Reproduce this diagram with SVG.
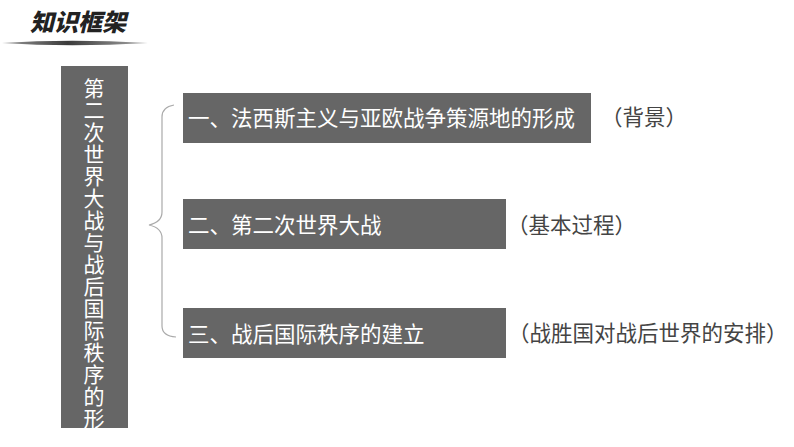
<svg xmlns="http://www.w3.org/2000/svg" width="794" height="447" viewBox="0 0 794 447">
<style>
.box{fill:#666666;}
.bt{font-family:"Noto Sans CJK SC","Noto Sans",sans-serif;font-size:21.5px;fill:#ffffff;}
.lt{font-family:"Noto Sans CJK SC","Noto Sans",sans-serif;font-size:21.5px;fill:#444444;}
.vt{font-family:"Noto Sans CJK SC","Noto Sans",sans-serif;font-size:21px;fill:#ffffff;text-anchor:middle;}
.title{font-family:"Noto Sans CJK SC",sans-serif;font-size:24px;font-weight:900;fill:#222222;font-style:italic;}
</style>
<defs>
<linearGradient id="bar" x1="0" y1="0" x2="1" y2="0">
<stop offset="0" stop-color="#9a9a9a"/>
<stop offset="0.45" stop-color="#3a3a3a"/>
<stop offset="1" stop-color="#aaaaaa"/>
</linearGradient>
<clipPath id="vclip"><rect x="61" y="66" width="67" height="362"/></clipPath>
</defs>
<rect width="794" height="447" fill="#ffffff"/>
<g id="header">
<text class="title" x="30" y="31">知识框架</text>
<path d="M2,43 Q70,38.5 148,43 Q70,47.5 2,43 Z" fill="url(#bar)"/>
</g>
<g id="main">
<rect class="box" x="61" y="66" width="67" height="362"/>
<g clip-path="url(#vclip)">
<text class="vt" x="94" y="95.5">第</text>
<text class="vt" x="94" y="117.5">二</text>
<text class="vt" x="94" y="139.5">次</text>
<text class="vt" x="94" y="161.5">世</text>
<text class="vt" x="94" y="183.5">界</text>
<text class="vt" x="94" y="205.5">大</text>
<text class="vt" x="94" y="227.5">战</text>
<text class="vt" x="94" y="249.5">与</text>
<text class="vt" x="94" y="271.5">战</text>
<text class="vt" x="94" y="293.5">后</text>
<text class="vt" x="94" y="315.5">国</text>
<text class="vt" x="94" y="337.5">际</text>
<text class="vt" x="94" y="359.5">秩</text>
<text class="vt" x="94" y="381.5">序</text>
<text class="vt" x="94" y="403.5">的</text>
<text class="vt" x="94" y="425.5">形</text>
<text class="vt" x="94" y="447.5">成</text>
</g>
</g>
<g id="connectors">
<path d="M174,105 Q162,107 162,117 L162,212 Q162,222 149,225 Q162,228 162,238 L162,326 Q162,336 176,337" fill="none" stroke="#aaaaaa" stroke-width="1.2"/>
</g>
<g id="node1">
<rect class="box" x="183" y="93" width="408" height="50"/>
<text class="bt" x="188" y="126">一、法西斯主义与亚欧战争策源地的形成</text>
</g>
<g id="label1">
<text class="lt" x="601" y="125">（背景）</text>
</g>
<g id="node2">
<rect class="box" x="183" y="199" width="323" height="50"/>
<text class="bt" x="188" y="233">二、第二次世界大战</text>
</g>
<g id="label2">
<text class="lt" x="507" y="233">（基本过程）</text>
</g>
<g id="node3">
<rect class="box" x="183" y="308" width="323" height="50"/>
<text class="bt" x="188" y="342">三、战后国际秩序的建立</text>
</g>
<g id="label3">
<text class="lt" x="508" y="341">（战胜国对战后世界的安排）</text>
</g>
</svg>
